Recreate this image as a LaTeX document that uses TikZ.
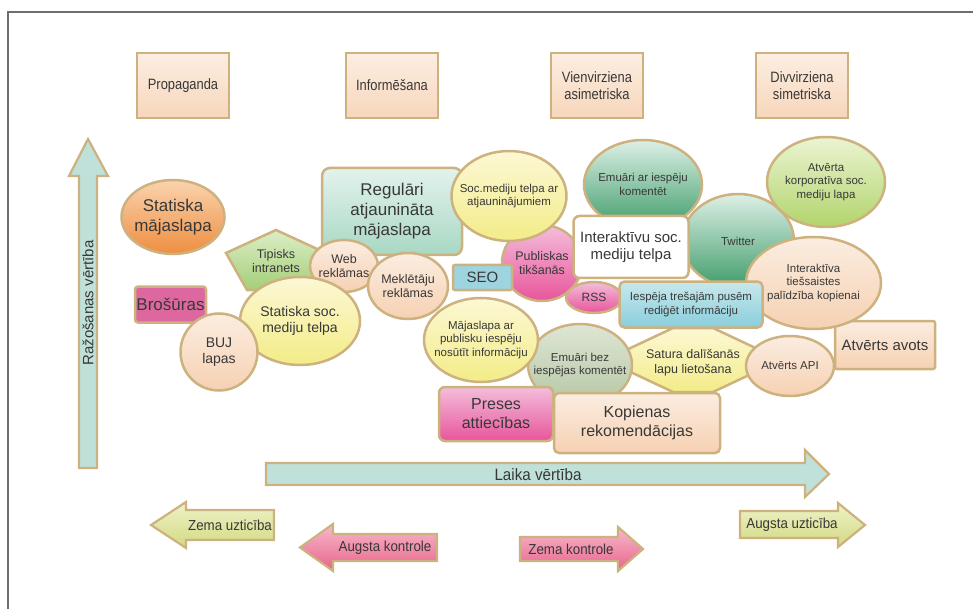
\documentclass[tikz,border=0pt]{standalone}
\usepackage{fontspec}
\setmainfont{Liberation Sans}
\newfontfamily\narrowsans[FakeStretch=0.86]{Liberation Sans}
\newfontfamily\labelsans[FakeStretch=0.92]{Liberation Sans}
\usetikzlibrary{shapes.geometric}

% palette
\definecolor{rim}{HTML}{CDB27F}
\definecolor{ink}{HTML}{383838}
\definecolor{framegray}{HTML}{6E6E6E}
\definecolor{peachT}{HTML}{FBEDE1}
\definecolor{peachB}{HTML}{F6D1B2}
\definecolor{hdrT}{HTML}{FCEEE2}
\definecolor{hdrB}{HTML}{F7D6BB}
\definecolor{yelT}{HTML}{FCF8D4}
\definecolor{yelB}{HTML}{F3EC88}
\definecolor{orgT}{HTML}{FAD3AE}
\definecolor{orgB}{HTML}{EE8E40}
\definecolor{magenta}{HTML}{DD68A0}
\definecolor{grnT}{HTML}{DDEEC6}
\definecolor{grnB}{HTML}{A4CE78}
\definecolor{tealT}{HTML}{E3F2ED}
\definecolor{tealB}{HTML}{A8D8C3}
\definecolor{pinkT}{HTML}{F4BEDB}
\definecolor{pinkB}{HTML}{E8559B}
\definecolor{seo}{HTML}{9DD4DF}
\definecolor{dgrnT}{HTML}{DDF0E6}
\definecolor{dgrnB}{HTML}{3F9C6A}
\definecolor{lgrnT}{HTML}{EBF4D2}
\definecolor{lgrnB}{HTML}{B2D46C}
\definecolor{blueT}{HTML}{C8E8EC}
\definecolor{blueB}{HTML}{89CEDB}
\definecolor{sageT}{HTML}{DEE6D5}
\definecolor{sageB}{HTML}{B5C6A3}
\definecolor{arrowteal}{HTML}{BFE1DA}
\definecolor{limeT}{HTML}{EFF2C8}
\definecolor{limeB}{HTML}{D2D982}
\definecolor{roseT}{HTML}{F7B9CC}
\definecolor{roseB}{HTML}{E8648A}

% font size with proportional leading
\newcommand\fz[1]{\fontsize{#1}{\fpeval{round(1.18*#1,2)}}\selectfont}

\tikzset{
  shapebase/.style={draw=rim, line width=2.5pt, inner sep=0pt},
  ell/.style={shapebase, ellipse},
  box/.style={shapebase, rectangle, rounded corners=#1},
  box/.default=5pt,
  sz/.style 2 args={minimum width=#1pt, minimum height=#2pt},
  lbl/.style={text=ink, align=center, inner sep=0pt},
  tx/.style 2 args={label={[lbl, font=\fz{#1}]center:{#2}}},
  peach/.style={top color=peachT, bottom color=peachB},
  hdr/.style={top color=hdrT, bottom color=hdrB},
  yel/.style={top color=yelT, bottom color=yelB},
  org/.style={top color=orgT, bottom color=orgB},
  grn/.style={top color=grnT, bottom color=grnB},
  teal/.style={top color=tealT, bottom color=tealB},
  pnk/.style={top color=pinkT, bottom color=pinkB},
  dgrn/.style={top color=dgrnT, bottom color=dgrnB},
  lgrn/.style={top color=lgrnT, bottom color=lgrnB},
  blu/.style={top color=blueT, bottom color=blueB},
  sage/.style={top color=sageT, bottom color=sageB},
  lime/.style={top color=limeT, bottom color=limeB},
  rose/.style={top color=roseT, bottom color=roseB},
  header/.style={shapebase, rectangle, hdr, sz={92}{65}, text=ink, align=center,
    font=\narrowsans\fz{15}},
  bigarrow/.style={draw=rim, line width=2.2pt, line join=miter, fill=arrowteal},
  smallarrow/.style={draw=rim, line width=2.2pt, line join=miter},
  arrowtext/.style={text=ink, inner sep=0pt, font=\labelsans\fz{14.5}},
}

\begin{document}
\begin{tikzpicture}[x=1pt, y=-1pt]
\useasboundingbox (0,0) rectangle (973,609);

% page frame
\draw[framegray, line width=1.4pt] (8,609) -- (8,12) -- (973,12);

% column headers
\node[header] (propaganda) at (183,85.5) {Propaganda};
\node[header] (informesana) at (392,85.5) {Informēšana};
\node[header] (vienvirziena) at (597,85.5) {Vienvirziena\\asimetriska};
\node[header] (divvirziena) at (802,85.5) {Divvirziena\\simetriska};

% value axes
\draw[bigarrow] (79,468) -- (79,176) -- (69,176) -- (88,139) -- (108,176)
  -- (97,176) -- (97,468) -- cycle;
\node[text=ink, rotate=90, font=\fz{15}] (razosana) at (88,303) {Ražošanas vērtība};
\draw[bigarrow] (266,463) -- (805,463) -- (805,450) -- (829,474) -- (805,497)
  -- (805,485) -- (266,485) -- cycle;
\node[text=ink, font=\labelsans\fz{16.5}] (laiks) at (538,474.5) {Laika vērtība};

% trust and control arrows
\draw[smallarrow, lime] (274,510) -- (186,510) -- (186,502) -- (151,525)
  -- (186,548) -- (186,540) -- (274,540) -- cycle;
\node[arrowtext] (zemauzt) at (230,525) {Zema uzticība};
\draw[smallarrow, rose] (437,534) -- (333,534) -- (333,524) -- (300,547.5)
  -- (333,571) -- (333,561) -- (437,561) -- cycle;
\node[arrowtext] (augstakontr) at (385,547.5) {Augsta kontrole};
\draw[smallarrow, rose] (520,537) -- (618,537) -- (618,527) -- (643,549)
  -- (618,571) -- (618,561) -- (520,561) -- cycle;
\node[arrowtext] (zemakontr) at (571,549.5) {Zema kontrole};
\draw[smallarrow, lime] (740,511) -- (838,511) -- (838,503) -- (865,525)
  -- (838,547) -- (838,538) -- (740,538) -- cycle;
\node[arrowtext] (augstauzt) at (792,524.5) {Augsta uzticība};

% channels
\node[ell, org, sz={103}{74}, tx={17}{Statiska\\mājaslapa}] (statmaj) at (173,217) {};
\node[box=3pt, fill=magenta, sz={71}{36}, tx={17}{Brošūras}] (brosuras) at (170.5,304.5) {};
\node[box=8pt, teal, sz={140}{87}, tx={17}{Regulāri\\atjaunināta\\mājaslapa}] (regular) at (392,211.5) {};
\draw[shapebase, grn] (276,230) -- (226,253) -- (247,290) -- (307,290) -- (326,253) -- cycle;
\node[lbl, font=\fz{12.5}] (intranets) at (276,261) {Tipisks\\intranets};
\node[ell, peach, sz={68}{52}, tx={12.5}{Web\\reklāmas}] (web) at (344,266) {};
\node[ell, yel, sz={120}{88}, tx={14}{Statiska soc.\\mediju telpa}] (statsoc) at (300,321) {};
\node[ell, peach, sz={77}{77}, tx={14}{BUJ\\lapas}] (buj) at (219,352) {};
\node[ell, peach, sz={80}{66}, tx={12.5}{Meklētāju\\reklāmas}] (meklet) at (408,286) {};
\node[ell, pnk, sz={80}{76}, tx={12.5}{Publiskas\\tikšanās}] (publ) at (542,263) {};
\node[box=2pt, fill=seo, sz={59}{25}, tx={15}{SEO}] (seo) at (482.5,277.5) {};
\node[ell, yel, sz={115}{90}, tx={11.5}{Soc.mediju telpa ar\\atjauninājumiem}] (socatj) at (509,196) {};
\node[ell, pnk, sz={56}{31}, tx={12}{RSS}] (rss) at (594,297.5) {};
\node[ell, dgrn, sz={112}{94}, tx={11.5}{Twitter}] (twitter) at (738,241) {};
\node[ell, dgrn, sz={118}{89}, tx={11.5}{Emuāri ar iespēju\\komentēt}] (emuari) at (643,184.5) {};
\node[box=6pt, fill=white, sz={115}{62}, tx={15}{Interaktīvu soc.\\mediju telpa}] (interakt) at (631,247) {};
\node[ell, lgrn, sz={118}{90}, tx={11.5}{Atvērta\\korporatīva soc.\\mediju lapa}] (korp) at (826,182) {};
\node[box=2pt, peach, sz={100}{48}, tx={15}{Atvērts avots}] (avots) at (885,345) {};
\node[ell, peach, sz={135}{92}, tx={11.5}{Interaktīva\\tiešsaistes\\palīdzība kopienai}] (palidz) at (813.5,283) {};
\draw[shapebase, yel] (605,360) -- (673,328) -- (713,328) -- (781,360)
  -- (713,392) -- (673,392) -- cycle;
\node[lbl, font=\fz{12.5}] (satura) at (693,363) {Satura dalīšanās\\lapu lietošana};
\node[box=5pt, blu, sz={143}{46}, tx={11.5}{Iespēja trešajām pusēm\\rediģēt informāciju}] (iespeja) at (691,304.5) {};
\node[ell, sage, sz={104}{82}, tx={11.5}{Emuāri bez\\iespējas komentēt}] (emubez) at (580,365) {};
\node[ell, yel, sz={114}{84}, tx={11.5}{Mājaslapa ar\\publisku iespēju\\nosūtīt informāciju}] (majpubl) at (481,340) {};
\node[ell, peach, sz={88}{60}, tx={11.5}{Atvērts API}] (api) at (790,366) {};
\node[box=6pt, pnk, sz={114}{54}, tx={16}{Preses\\attiecības}] (preses) at (496,414) {};
\node[box=5pt, peach, sz={166}{60}, tx={16}{Kopienas\\rekomendācijas}] (kopienas) at (637,423) {};
\end{tikzpicture}
\end{document}
